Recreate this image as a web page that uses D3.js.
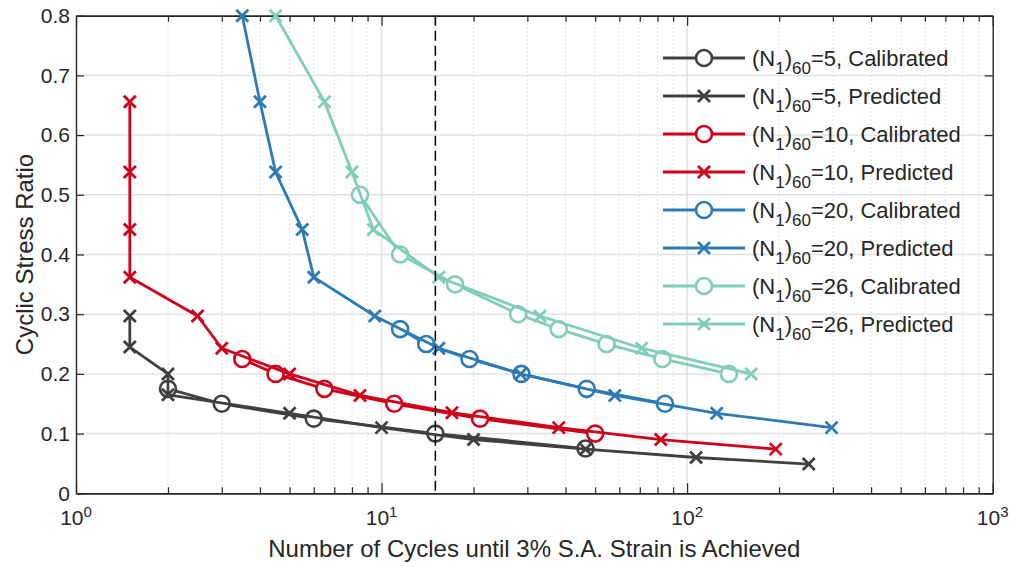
<!DOCTYPE html>
<html>
<head>
<meta charset="utf-8">
<script src="https://cdn.jsdelivr.net/npm/d3@7"></script>
<style>
  body { margin: 0; background: #fff; }
  svg { display: block; }
  text { font-family: "Liberation Sans", Arial, Helvetica, sans-serif; fill: #262626; }
</style>
</head>
<body>
<svg id="chart" width="1013" height="567"></svg>
<script>
// Cycles until 3% single-amplitude strain versus cyclic stress ratio, per (N1)60
const n5Cal = [2, 3, 6, 15, 46.5];
const csr5Cal = [0.175, 0.15, 0.125, 0.1, 0.075];
const n5Pred = [1.5, 1.5, 2, 2, 5, 10, 20, 46.5, 107, 250];
const csr5Pred = [0.297, 0.245, 0.2, 0.165, 0.134, 0.11, 0.09, 0.074, 0.06, 0.049];

const n10Cal = [3.5, 4.5, 6.5, 11, 21, 50];
const csr10Cal = [0.225, 0.2, 0.175, 0.15, 0.125, 0.1];
const n10Pred = [1.5, 1.5, 1.5, 1.5, 2.5, 3, 5, 8.5, 17, 38, 82, 195];
const csr10Pred = [0.656, 0.538, 0.442, 0.362, 0.297, 0.243, 0.2, 0.164, 0.135, 0.11, 0.09, 0.074];

const n20Cal = [11.5, 14, 19.4, 28.7, 46.9, 84.6];
const csr20Cal = [0.275, 0.25, 0.225, 0.2, 0.175, 0.15];
const n20Pred = [3.5, 4, 4.5, 5.5, 6, 9.5, 15.4, 28.5, 58, 125, 297];
const csr20Pred = [0.8, 0.656, 0.538, 0.442, 0.362, 0.297, 0.243, 0.2, 0.164, 0.134, 0.11];

const n26Cal = [8.5, 11.5, 17.4, 28, 38, 54.5, 83, 137];
const csr26Cal = [0.5, 0.4, 0.35, 0.3, 0.275, 0.25, 0.225, 0.2];
const n26Pred = [4.5, 6.5, 8, 9.4, 15.4, 33, 71, 162];
const csr26Pred = [0.8, 0.656, 0.538, 0.442, 0.362, 0.297, 0.243, 0.2];

const legendN1 = ["5", "5", "10", "10", "20", "20", "26", "26"];
const legendKind = ["Calibrated", "Predicted", "Calibrated", "Predicted", "Calibrated", "Predicted", "Calibrated", "Predicted"];

const xMajorTicks = [1, 10, 100, 1000];
const xTickExponents = ["0", "1", "2", "3"];
const yTicks = [0, 0.1, 0.2, 0.3, 0.4, 0.5, 0.6, 0.7, 0.8];
const referenceCycles = 15;

const xLabel = "Number of Cycles until 3% S.A. Strain is Achieved";
const yLabel = "Cyclic Stress Ratio";

const colors = ["#404040", "#d0021b", "#2c7bb6", "#80cdb9"];

const series = [
  { n: n5Cal, csr: csr5Cal, color: colors[0], marker: "o" },
  { n: n5Pred, csr: csr5Pred, color: colors[0], marker: "x" },
  { n: n10Cal, csr: csr10Cal, color: colors[1], marker: "o" },
  { n: n10Pred, csr: csr10Pred, color: colors[1], marker: "x" },
  { n: n20Cal, csr: csr20Cal, color: colors[2], marker: "o" },
  { n: n20Pred, csr: csr20Pred, color: colors[2], marker: "x" },
  { n: n26Cal, csr: csr26Cal, color: colors[3], marker: "o" },
  { n: n26Pred, csr: csr26Pred, color: colors[3], marker: "x" }
];

const plotLeft = 76, plotRight = 992.7, plotTop = 15.7, plotBottom = 493.3;
const x = d3.scaleLog().domain([1, 1000]).range([plotLeft, plotRight]);
const y = d3.scaleLinear().domain([0, 0.8]).range([plotBottom, plotTop]);

const svg = d3.select("#chart");

// minor decade ticks 2..9 within each decade
const xMinorTicks = [];
[1, 10, 100].forEach(d => { for (let k = 2; k <= 9; k++) xMinorTicks.push(d * k); });

// grid
const grid = svg.append("g");
grid.selectAll(".minor").data(xMinorTicks).join("line")
  .attr("x1", d => x(d)).attr("x2", d => x(d))
  .attr("y1", plotTop).attr("y2", plotBottom)
  .attr("stroke", "#c4c4c4").attr("stroke-width", 1).attr("stroke-dasharray", "1,3");
grid.selectAll(".majx").data(xMajorTicks.slice(1, -1)).join("line")
  .attr("x1", d => x(d)).attr("x2", d => x(d))
  .attr("y1", plotTop).attr("y2", plotBottom)
  .attr("stroke", "#e2e2e2").attr("stroke-width", 1.5);
grid.selectAll(".majy").data(yTicks.slice(1, -1)).join("line")
  .attr("x1", plotLeft).attr("x2", plotRight)
  .attr("y1", d => y(d)).attr("y2", d => y(d))
  .attr("stroke", "#e2e2e2").attr("stroke-width", 1.5);

// axes box with inward ticks
function styleAxis(g) {
  g.selectAll("path.domain").attr("stroke", "#262626").attr("stroke-width", 1.4);
  g.selectAll(".tick line").attr("stroke", "#262626").attr("stroke-width", 1.2);
}
const axes = svg.append("g");
axes.append("g").attr("transform", `translate(0,${plotBottom})`)
  .call(d3.axisBottom(x).tickValues(xMajorTicks).tickSize(-10).tickSizeOuter(0).tickFormat(""))
  .call(styleAxis);
axes.append("g").attr("transform", `translate(0,${plotBottom})`)
  .call(d3.axisBottom(x).tickValues(xMinorTicks).tickSize(-6).tickSizeOuter(0).tickFormat(""))
  .call(styleAxis);
axes.append("g").attr("transform", `translate(0,${plotTop})`)
  .call(d3.axisTop(x).tickValues(xMajorTicks).tickSize(-10).tickSizeOuter(0).tickFormat(""))
  .call(styleAxis);
axes.append("g").attr("transform", `translate(0,${plotTop})`)
  .call(d3.axisTop(x).tickValues(xMinorTicks).tickSize(-6).tickSizeOuter(0).tickFormat(""))
  .call(styleAxis);
const yAxisLeft = axes.append("g").attr("transform", `translate(${plotLeft},0)`)
  .call(d3.axisLeft(y).tickValues(yTicks).tickSize(-8).tickSizeOuter(0).tickPadding(6)
    .tickFormat(d => d === 0 ? "0" : d.toFixed(1)))
  .call(styleAxis);
yAxisLeft.selectAll(".tick text")
  .attr("font-size", 21).attr("fill", "#262626")
  .attr("font-family", "'Liberation Sans', Arial, Helvetica, sans-serif");
axes.append("g").attr("transform", `translate(${plotRight},0)`)
  .call(d3.axisRight(y).tickValues(yTicks).tickSize(-8).tickSizeOuter(0).tickFormat(""))
  .call(styleAxis);

// x tick labels as powers of ten
const xLabels = svg.append("g").selectAll("text").data(xMajorTicks).join("text")
  .attr("x", d => x(d)).attr("y", 525)
  .attr("text-anchor", "middle").attr("font-size", 21);
xLabels.append("tspan").text("10");
xLabels.append("tspan").attr("dy", -8).attr("font-size", 15).text((d, i) => xTickExponents[i]);

// axis titles
svg.append("text").attr("x", (plotLeft + plotRight) / 2).attr("y", 557)
  .attr("text-anchor", "middle").attr("font-size", 24).text(xLabel);
svg.append("text")
  .attr("transform", `translate(33,${(plotTop + plotBottom) / 2}) rotate(-90)`)
  .attr("text-anchor", "middle").attr("font-size", 24).text(yLabel);

// marker shapes
function drawMarker(sel, kind, color) {
  if (kind === "o") {
    sel.append("circle").attr("r", 8).attr("fill", "#fff")
      .attr("stroke", color).attr("stroke-width", 2.6);
  } else {
    sel.append("path").attr("d", "M-6,-6L6,6M-6,6L6,-6")
      .attr("stroke", color).attr("stroke-width", 2.8).attr("fill", "none");
  }
}

const line = d3.line().x(d => x(d[0])).y(d => y(d[1]));
const plot = svg.append("g");
series.forEach(s => {
  const pts = s.n.map((v, i) => [v, s.csr[i]]);
  const g = plot.append("g");
  g.append("path").attr("d", line(pts)).attr("fill", "none")
    .attr("stroke", s.color).attr("stroke-width", 2.8).attr("stroke-linejoin", "round");
  pts.forEach(p => {
    const m = g.append("g").attr("transform", `translate(${x(p[0])},${y(p[1])})`);
    drawMarker(m, s.marker, s.color);
  });
});

// reference line at 15 cycles
svg.append("line")
  .attr("x1", x(referenceCycles)).attr("x2", x(referenceCycles))
  .attr("y1", y(0.8)).attr("y2", y(0))
  .attr("stroke", "#000").attr("stroke-width", 1.5).attr("stroke-dasharray", "10,5");

// legend
const legend = svg.append("g");
series.forEach((s, i) => {
  const cy = 58 + i * 38;
  const row = legend.append("g").attr("transform", `translate(0,${cy})`);
  row.append("line").attr("x1", 663).attr("x2", 745).attr("y1", 0).attr("y2", 0)
    .attr("stroke", s.color).attr("stroke-width", 2.8);
  drawMarker(row.append("g").attr("transform", "translate(704,0)"), s.marker, s.color);
  const t = row.append("text").attr("x", 752).attr("y", 8).attr("font-size", 22).attr("fill", "#000");
  t.append("tspan").text("(N");
  t.append("tspan").attr("dy", 8).attr("font-size", 17).text("1");
  t.append("tspan").attr("dy", -8).text(")");
  t.append("tspan").attr("dy", 8).attr("font-size", 17).text("60");
  t.append("tspan").attr("dy", -8).text(`=${legendN1[i]}, ${legendKind[i]}`);
});
</script>
</body>
</html>
